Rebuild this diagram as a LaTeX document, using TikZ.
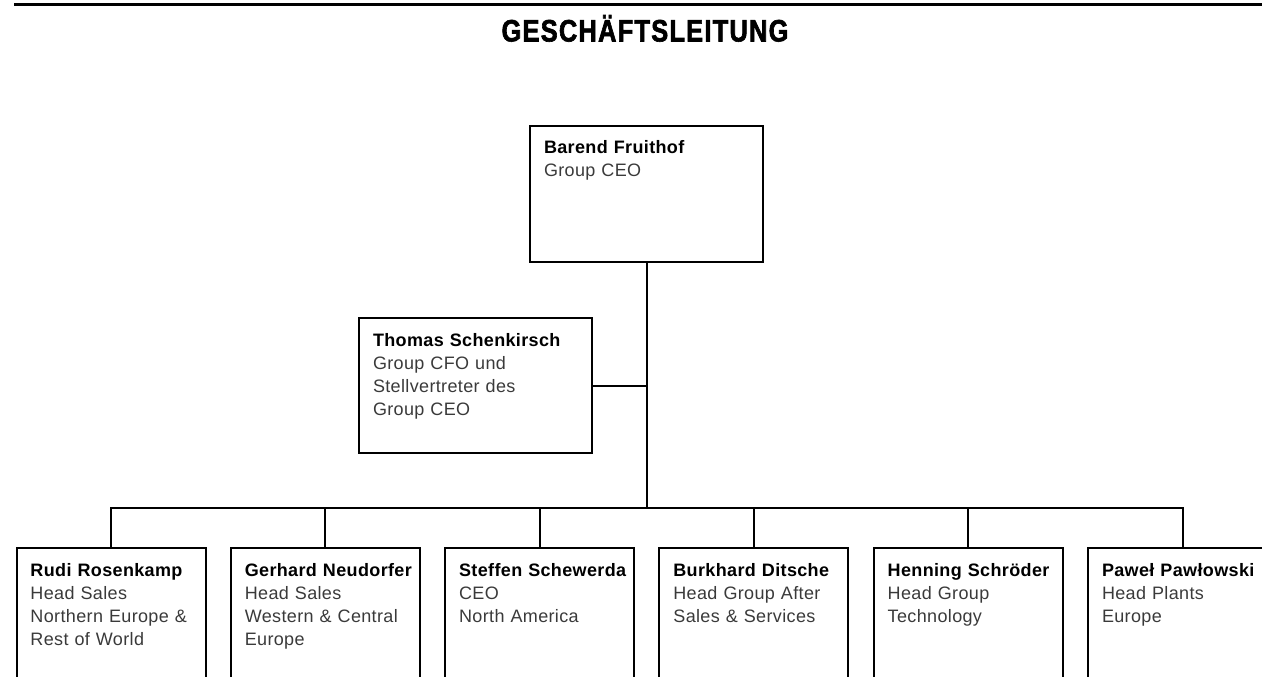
\documentclass[tikz,border=0pt]{standalone}
\usepackage{fontspec}
\setmainfont[LetterSpace=2]{Liberation Sans}
\newfontfamily\titlefont[FakeStretch=0.82,LetterSpace=4,FakeBold=2]{Liberation Sans}
\usetikzlibrary{positioning}
\definecolor{textgray}{HTML}{3A3A3A}
\newcommand\who[1]{{\color{black}\bfseries #1}}
\hyphenpenalty=10000
\exhyphenpenalty=10000

\begin{document}
\begin{tikzpicture}[
						x=1pt, y=-1pt,
						line width=2pt,
						node distance=23.3pt,
						head/.style = {draw, rectangle, anchor=north west, align=left,
							inner xsep=14pt, inner ysep=0pt, text width=205pt,
							text height=27pt, text depth=109pt, text=textgray,
							font=\fontsize{18}{23.3}\selectfont},
						member/.style = {head, text width=161pt, text height=28pt, text depth=180pt}
					]
					\useasboundingbox (0,0) rectangle (1262,677);
					\clip (0,0) rectangle (1262,677);
					% title
					\coordinate (rule l) at (14,5);
					\coordinate (rule r) at (1264,5);
					\draw[line width=3pt] (rule l) -- (rule r);
					\node[anchor=base, inner sep=0pt, font=\titlefont\bfseries\fontsize{31}{31}\selectfont] (title) at (645,41.5) {GESCHÄFTSLEITUNG};
					% boxes
					\node[head] (ceo) at (529,125) {\who{Barend Fruithof}\\Group CEO};
					\node[head, text height=28pt, text depth=107pt] (cfo) at (358,317) {\who{Thomas Schenkirsch}\\Group CFO und\\Stellvertreter des\\Group CEO};
					\node[member] (rudi) at (15.5,547) {\who{Rudi~Rosenkamp}\\Head Sales\\Northern Europe \&\\Rest of World};
					\node[member] (gerhard) [right=of rudi] {\who{Gerhard~Neudorfer}\\Head Sales\\Western \& Central\\Europe};
					\node[member] (steffen) [right=of gerhard] {\who{Steffen~Schewerda}\\CEO\\North America};
					\node[member] (burkhard) [right=of steffen] {\who{Burkhard~Ditsche}\\Head Group After\\Sales \& Services};
					\node[member] (henning) [right=of burkhard] {\who{Henning~Schröder}\\Head Group\\Technology};
					\node[member] (pawel) [right=of henning] {\who{Paweł~Pawłowski}\\Head Plants\\Europe};
					% lines
					\coordinate (bus) at (ceo.south |- 0,508);
					\draw (ceo.south) -- (bus);
					\draw (cfo.east) -- (cfo.east -| bus);
					\draw (rudi.north) |- (bus) -| (pawel.north);
					\draw (gerhard.north) -- (gerhard.north |- bus);
					\draw (steffen.north) -- (steffen.north |- bus);
					\draw (burkhard.north) -- (burkhard.north |- bus);
					\draw (henning.north) -- (henning.north |- bus);
				\end{tikzpicture}
\end{document}
